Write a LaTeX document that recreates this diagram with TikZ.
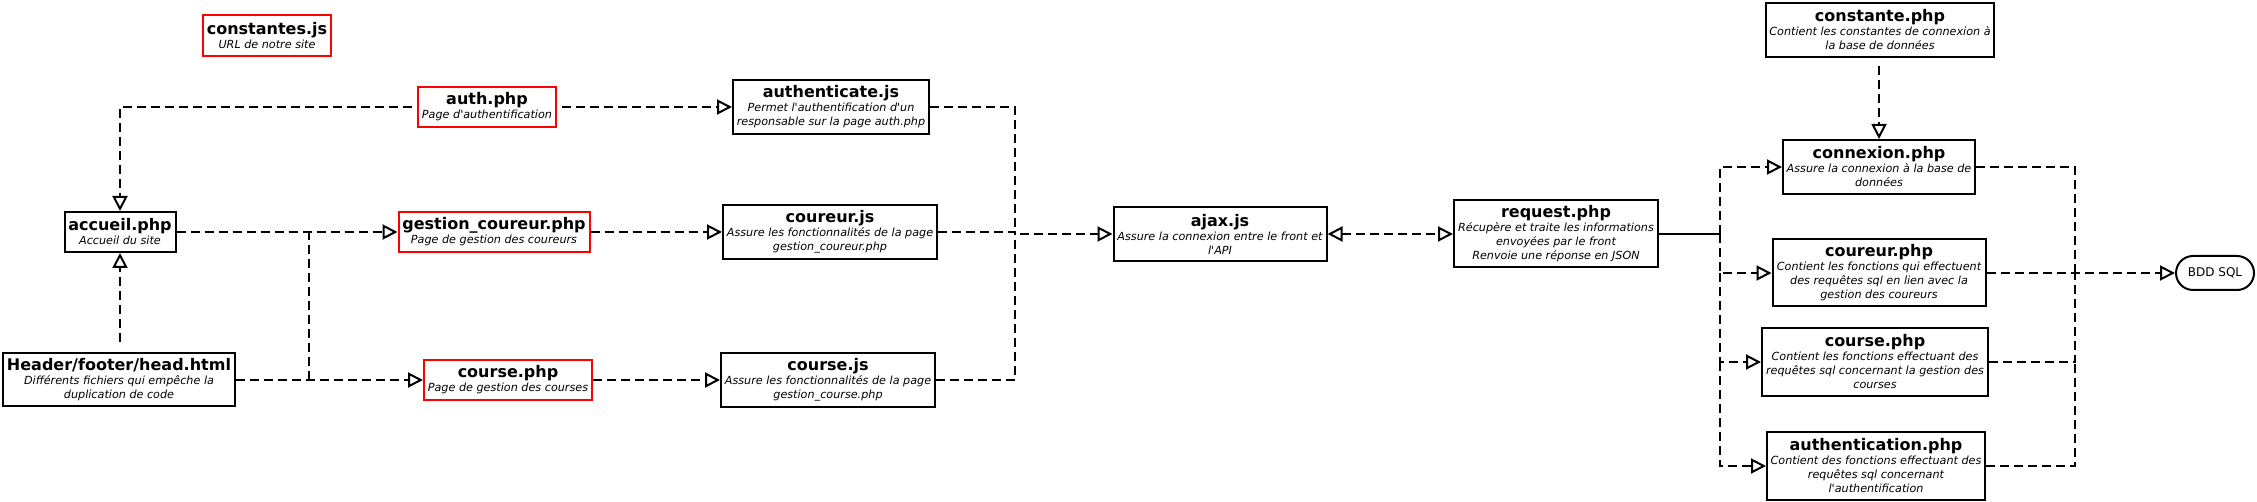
\documentclass[tikz,border=0pt]{standalone}
\usepackage{fontspec}
\setmainfont{DejaVu Sans}
\usetikzlibrary{positioning}
\usetikzlibrary{arrows.meta}

\newcommand{\ftitle}[1]{{\fontsize{16}{19}\selectfont\bfseries\upshape #1}}

\tikzset{
  opentri/.tip={Triangle[open, length=15pt, width=15pt]},
  filebox/.style={draw=black, line width=2pt, inner sep=0pt, align=center,
    font=\fontsize{11.2}{14}\selectfont\itshape},
  pagebox/.style={filebox, draw=red},
  dbbox/.style={draw=black, line width=2pt, rounded corners=17pt, inner sep=0pt,
    font=\fontsize{12}{14}\selectfont},
  link/.style={line width=2pt, dash pattern=on 9pt off 5pt},
  dep/.style={link, -opentri},
}

\begin{document}
\begin{tikzpicture}[x=1pt, y=-1pt]

\useasboundingbox (0,0) rectangle (2257,502);

% nodes: front pages
{
\node (constantes) at (267,35.5) [pagebox, minimum width=128pt, minimum height=41pt]
{\ftitle{constantes.js}\\URL de notre site};

\node (auth) at (487,107) [pagebox, minimum width=138pt, minimum height=40pt]
{\ftitle{auth.php}\\Page d\textquotesingle authentification};

\node (accueil) at (120,232) [filebox, minimum width=111pt, minimum height=40pt]
{\ftitle{accueil.php}\\Accueil du site};

\node (gestion) at (494,232) [pagebox, minimum width=191pt, minimum height=40pt]
{\ftitle{gestion\_coureur.php}\\Page de gestion des coureurs};

\node (header) at (119,380) [filebox, minimum width=232pt, minimum height=53pt]
{\ftitle{Header/footer/head.html}\\Différents fichiers qui empêche la\\duplication de code};

\node (coursephp) at (508,380) [pagebox, minimum width=168pt, minimum height=40pt]
{\ftitle{course.php}\\Page de gestion des courses};
}

% nodes: javascript
{
\node (authenticate) at (831,107) [filebox, minimum width=196pt, minimum height=54pt]
{\ftitle{authenticate.js}\\Permet l\textquotesingle authentification d\textquotesingle un\\responsable sur la page auth.php};

\node (coureurjs) at (830,232) [filebox, minimum width=214pt, minimum height=54pt]
{\ftitle{coureur.js}\\Assure les fonctionnalités de la page\\gestion\_coureur.php};

\node (coursejs) at (828,380) [filebox, minimum width=214pt, minimum height=54pt]
{\ftitle{course.js}\\Assure les fonctionnalités de la page\\gestion\_course.php};

\node (ajax) at (1220,234) [filebox, minimum width=213pt, minimum height=54pt]
{\ftitle{ajax.js}\\Assure la connexion entre le front et\\l\textquotesingle API};
}

% nodes: api
{
\node (request) at (1556,234) [filebox, minimum width=204pt, minimum height=67pt]
{\ftitle{request.php}\\Récupère et traite les informations\\envoyées par le front\\Renvoie une réponse en JSON};

\node (constante) at (1880,29.7) [filebox, minimum width=228pt, minimum height=54pt]
{\ftitle{constante.php}\\Contient les constantes de connexion à\\la base de données};

\node (connexion) at (1879,167) [filebox, minimum width=192pt, minimum height=54pt]
{\ftitle{connexion.php}\\Assure la connexion à la base de\\données};

\node (coureurphp) at (1879,273) [filebox, minimum width=213pt, minimum height=67pt]
{\ftitle{coureur.php}\\Contient les fonctions qui effectuent\\des requêtes sql en lien avec la\\gestion des coureurs};

\node (coursesql) at (1875,362) [filebox, minimum width=226pt, minimum height=68pt]
{\ftitle{course.php}\\Contient les fonctions effectuant des\\requêtes sql concernant la gestion des\\courses};

\node (authentication) at (1876,466) [filebox, minimum width=218pt, minimum height=68pt]
{\ftitle{authentication.php}\\Contient des fonctions effectuant des\\requêtes sql concernant\\l\textquotesingle authentification};

\node (bdd) at (2215,273) [dbbox, minimum width=78pt, minimum height=34pt] {BDD SQL};
}

% bends
\coordinate (hdrsplit) at (309,380);
\coordinate (jsbus) at (1015,234);
\coordinate (reqsplit) at (1720,234);
\coordinate (dbbus) at (2075,273);

% arrows: pages
{
\draw[dep, shorten <=5pt] (auth.west) -| (accueil.north);
\draw[dep, shorten <=5pt] (auth.east) -- (authenticate.west);
\draw[dep, shorten <=10pt] (accueil.south |- header.north) -- (accueil.south);
\draw[dep] (accueil.east) -- (gestion.west);
\draw[dep] (header.east) -- (coursephp.west);
\draw[link] (hdrsplit) -- (hdrsplit |- gestion.west);
\draw[dep] (gestion.east) -- (coureurjs.west);
\draw[dep] (coursephp.east) -- (coursejs.west);
}

% arrows: javascript
{
\draw[link] (authenticate.east) -| (jsbus);
\draw[link] (coursejs.east) -| (jsbus);
\draw[dep] (coureurjs.east) -| (jsbus) -- (ajax.west);
\draw[dep, opentri-opentri] (ajax.east) -- (request.west);
}

% arrows: api
{
\draw[line width=2pt] (request.east) -- (reqsplit);
\draw[dep] (reqsplit) |- (connexion.west);
\draw[dep] (reqsplit) |- (coureurphp.west);
\draw[dep] (reqsplit |- coureurphp.west) |- (coursesql.west);
\draw[dep] (reqsplit |- coursesql.west) |- (authentication.west);
\draw[dep, shorten <=8pt] (connexion.north |- constante.south) -- (connexion.north);

\draw[link] (connexion.east) -| (dbbus);
\draw[link] (authentication.east) -| (dbbus |- coursesql.east);
\draw[link] (coursesql.east) -| (dbbus);
\draw[dep] (coureurphp.east) -- (bdd.west);
}

\end{tikzpicture}
\end{document}
